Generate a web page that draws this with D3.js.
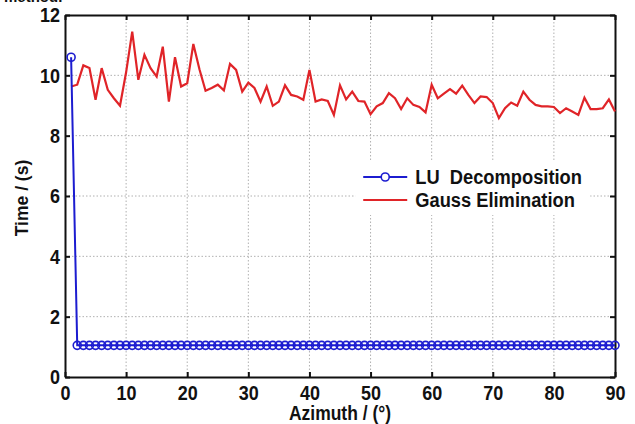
<!DOCTYPE html>
<html>
  <head>
    <script src="https://d3js.org/d3.v7.min.js"></script>
    <style>
      body { margin: 0; background: #fff; }
      text { font-family: "Liberation Sans", Arial, sans-serif; font-weight: bold; fill: #111; }
      .tall { transform-box: fill-box; transform-origin: center; transform: scaleY(1.15); }
    </style>
  </head>
  <body>
    <div id="chart"></div>

    <script>
      // azimuth angles (deg), one run per degree
      const azimuth = d3.range(1, 91);
      // LU decomposition: first run includes factorisation, then ~constant
      const luTime = [10.6].concat(azimuth.slice(1).map(() => 1.05));
      // Gauss elimination
      const gaussTime = [
        9.63, 9.69, 10.33, 10.24, 9.19, 10.24, 9.52, 9.24, 8.99, 10.1,
        11.45, 9.85, 10.68, 10.24, 9.96, 10.95, 9.13, 10.6, 9.63, 9.74,
        11.04, 10.2, 9.49, 9.58, 9.69, 9.5, 10.38, 10.18, 9.46, 9.76,
        9.58, 9.13, 9.63, 8.99, 9.13, 9.67, 9.35, 9.3, 9.19, 10.18,
        9.13, 9.2, 9.15, 8.69, 9.67, 9.2, 9.46, 9.15, 9.13, 8.71,
        8.97, 9.08, 9.41, 9.24, 8.88, 9.24, 9.02, 8.95, 8.77, 9.69,
        9.24, 9.39, 9.54, 9.39, 9.66, 9.35, 9.08, 9.3, 9.28, 9.08,
        8.58, 8.91, 9.1, 8.99, 9.46, 9.19, 9.02, 8.97, 8.97, 8.95,
        8.75, 8.91, 8.8, 8.69, 9.26, 8.88, 8.88, 8.91, 9.2, 8.8
      ];
      const xTicks = d3.range(0, 91, 10);
      const yTicks = d3.range(0, 13, 2);
      const seriesNames = ["LU  Decomposition", "Gauss Elimination"];

      const width = 635;
      const height = 424;
      const margin = { top: 15, right: 20, bottom: 47, left: 65 };
      const w = width - margin.left - margin.right;
      const h = height - margin.top - margin.bottom;

      const svg = d3.select("#chart")
        .append("svg")
        .attr("width", width)
        .attr("height", height);

      // cut-off caption line from the page above
      svg.append("text")
        .attr("x", 4)
        .attr("y", 2)
        .style("font-size", "15px")
        .text("method.");

      const chart = svg.append("g")
        .attr("transform", `translate(${margin.left}, ${margin.top})`);

      const x = d3.scaleLinear().domain([0, 90]).range([0, w]);
      const y = d3.scaleLinear().domain([0, 12]).range([h, 0]);

      // grid
      chart.append("g").selectAll("line")
        .data(xTicks.slice(1, -1))
        .enter().append("line")
        .attr("x1", d => x(d)).attr("x2", d => x(d))
        .attr("y1", 0).attr("y2", h)
        .attr("stroke", "#b0b0b0").attr("stroke-width", 1)
        .attr("stroke-dasharray", "1.5,2");
      chart.append("g").selectAll("line")
        .data(yTicks.slice(1, -1))
        .enter().append("line")
        .attr("y1", d => y(d)).attr("y2", d => y(d))
        .attr("x1", 0).attr("x2", w)
        .attr("stroke", "#b0b0b0").attr("stroke-width", 1)
        .attr("stroke-dasharray", "1.5,2");

      // axes, ticks pointing inward on all sides
      const axisStyle = g => {
        g.select(".domain").attr("stroke", "#111").attr("stroke-width", 2);
        g.selectAll(".tick line").attr("stroke", "#111").attr("stroke-width", 2);
        g.selectAll("text").attr("class", "tall")
          .style("font-size", "18px").style("font-family", "Liberation Sans, Arial, sans-serif")
          .style("font-weight", "bold").attr("fill", "#111");
      };
      chart.append("g")
        .attr("transform", `translate(0, ${h})`)
        .call(d3.axisBottom(x).tickValues(xTicks).tickSizeInner(-5).tickSizeOuter(0).tickPadding(9))
        .call(axisStyle);
      chart.append("g")
        .call(d3.axisTop(x).tickValues(xTicks).tickSizeInner(-5).tickSizeOuter(0).tickFormat(""))
        .call(axisStyle);
      chart.append("g")
        .call(d3.axisLeft(y).tickValues(yTicks).tickSizeInner(-5).tickSizeOuter(0).tickPadding(5))
        .call(axisStyle);
      chart.append("g")
        .attr("transform", `translate(${w}, 0)`)
        .call(d3.axisRight(y).tickValues(yTicks).tickSizeInner(-5).tickSizeOuter(0).tickFormat(""))
        .call(axisStyle);

      // series
      const line = d3.line().x((d, i) => x(azimuth[i])).y(d => y(d));
      chart.append("path")
        .datum(gaussTime)
        .attr("fill", "none")
        .attr("stroke", "#e02428")
        .attr("stroke-width", 2.2)
        .attr("d", line);
      chart.append("path")
        .datum(luTime)
        .attr("fill", "none")
        .attr("stroke", "#1c1cd0")
        .attr("stroke-width", 2)
        .attr("d", line);
      chart.append("g").selectAll("circle")
        .data(luTime)
        .enter().append("circle")
        .attr("cx", (d, i) => x(azimuth[i]))
        .attr("cy", d => y(d))
        .attr("r", 4)
        .attr("fill", "none")
        .attr("stroke", "#1c1cd0")
        .attr("stroke-width", 1.6);

      // legend
      const legend = chart.append("g").attr("transform", `translate(${x(48.8)}, ${y(6.63)})`);
      legend.append("rect")
        .attr("x", -8).attr("y", -16)
        .attr("width", 235).attr("height", 54)
        .attr("fill", "#fff");
      const legendColors = ["#1c1cd0", "#e02428"];
      const item = legend.selectAll(".item")
        .data(seriesNames)
        .enter().append("g")
        .attr("transform", (d, i) => `translate(0, ${i * 23})`);
      item.append("line")
        .attr("x1", 0).attr("x2", 44)
        .attr("stroke", (d, i) => legendColors[i])
        .attr("stroke-width", 2);
      item.filter((d, i) => i === 0).append("circle")
        .attr("cx", 22).attr("r", 4)
        .attr("fill", "#fff")
        .attr("stroke", legendColors[0])
        .attr("stroke-width", 1.6);
      item.append("text")
        .attr("class", "tall")
        .attr("x", 52).attr("y", 6.5)
        .style("font-size", "18.3px")
        .attr("xml:space", "preserve")
        .text(d => d);

      // axis titles
      svg.append("text")
        .attr("class", "tall")
        .attr("x", margin.left + w / 2)
        .attr("y", height - 5)
        .style("text-anchor", "middle")
        .style("font-size", "17.5px")
        .text("Azimuth / (°)");
      svg.append("text")
        .attr("transform", "rotate(-90)")
        .attr("x", -(margin.top + h / 2) - 2)
        .attr("y", 28)
        .style("text-anchor", "middle")
        .style("font-size", "17.5px")
        .text("Time / (s)");
    </script>
  </body>
</html>
